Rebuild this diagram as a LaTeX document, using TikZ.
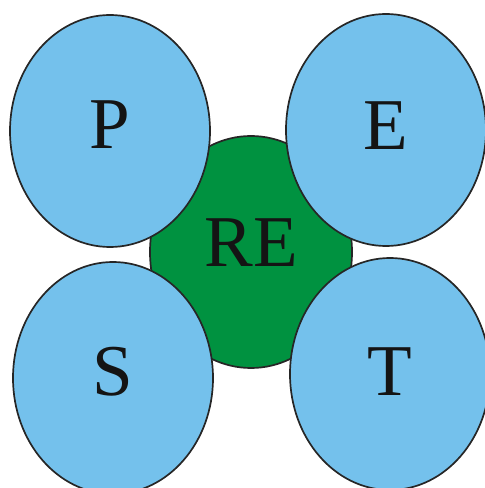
\documentclass[tikz,border=0pt]{standalone}
\usepackage{fontspec}
\setmainfont{Liberation Serif}
\usetikzlibrary{shapes.geometric}
\definecolor{petblue}{RGB}{116,193,236}
\definecolor{regreen}{RGB}{0,146,64}
\tikzset{
  blob/.style={ellipse, draw=black!85, line width=1.7pt, minimum width=200pt, minimum height=232pt, inner sep=0pt},
  petal/.style={blob, fill=petblue},
  core/.style={blob, fill=regreen, minimum width=202pt},
  letter/.style={font=\fontsize{73}{73}\selectfont, text=black!92, inner sep=0pt}
}
\begin{document}
\begin{tikzpicture}[x=1pt,y=1pt]
\useasboundingbox (0,0) rectangle (485,488);
\node[core] (re) at (251,236) {};
\node[petal] (p) at (110,357) {};
\node[petal] (e) at (386,358) {};
\node[petal] (s) at (113,110) {};
\node[petal] (t) at (390,114) {};
\node[letter] (lre) at ([yshift=9pt]re.center) {RE};
\node[letter] (lp) at ([yshift=6pt]p.center) {P};
\node[letter] (le) at ([yshift=4pt]e.center) {E};
\node[letter] (ls) at ([yshift=6pt]s.center) {S};
\node[letter] (lt) at ([yshift=2pt]t.center) {T};
\end{tikzpicture}
\end{document}
